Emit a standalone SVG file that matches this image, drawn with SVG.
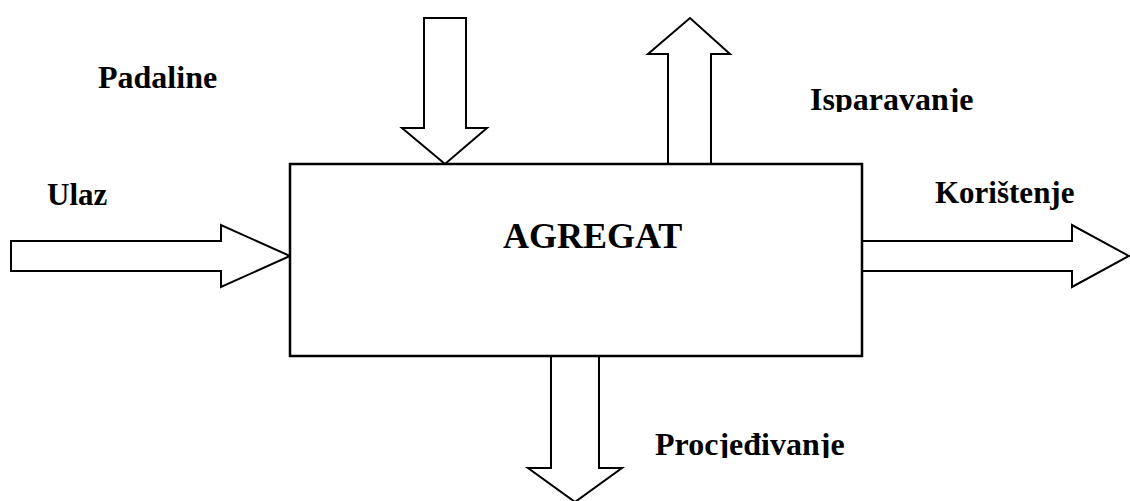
<svg xmlns="http://www.w3.org/2000/svg" width="1130" height="501" viewBox="0 0 1130 501">
<style>
.arrow{fill:#fff;stroke:#000;stroke-width:2;stroke-linejoin:miter}
.box{fill:#fff;stroke:#000;stroke-width:2.5}
.lbl{font-family:"Liberation Serif","Times New Roman",serif;font-weight:bold;font-size:31px;fill:#000}
.l32{font-size:32px}
.big{font-size:36px}
</style>
<defs>
<clipPath id="clipIsp"><rect x="780" y="70" width="250" height="42"/></clipPath>
<clipPath id="clipPro"><rect x="630" y="410" width="250" height="48"/></clipPath>
</defs>
<rect width="1130" height="501" fill="#fff"/>
<g id="connectors">
<polygon id="arrow-ulaz" class="arrow" points="11,241 221,241 221,225 290,256 221,287 221,271 11,271"/>
<polygon id="arrow-koristenje" class="arrow" points="862,241 1072,241 1072,225 1129,256 1072,287 1072,271 862,271"/>
<polygon id="arrow-padaline" class="arrow" points="424,18 466,18 466,128 487,128 445,164 402,128 424,128"/>
<polygon id="arrow-isparavanje" class="arrow" points="668,164 668,54 648,54 690,18 730,54 711,54 711,164"/>
<polygon id="arrow-procjedivanje" class="arrow" points="551,356 599,356 599,468 622,468 575,502 528,468 551,468"/>
</g>
<g id="node-agregat">
<rect class="box" x="290" y="164" width="572" height="192"/>
<text class="lbl big" x="503" y="248">AGREGAT</text>
</g>
<g id="label-ulaz"><text class="lbl" x="47" y="205">Ulaz</text></g>
<g id="label-padaline"><text class="lbl l32" x="98" y="88">Padaline</text></g>
<g id="label-isparavanje"><text class="lbl l32" x="810" y="110" clip-path="url(#clipIsp)">Isparavanje</text></g>
<g id="label-koristenje"><text class="lbl" x="935" y="203">Korištenje</text></g>
<g id="label-procjedivanje"><text class="lbl l32" x="655" y="455" clip-path="url(#clipPro)">Procjeđivanje</text></g>
</svg>
